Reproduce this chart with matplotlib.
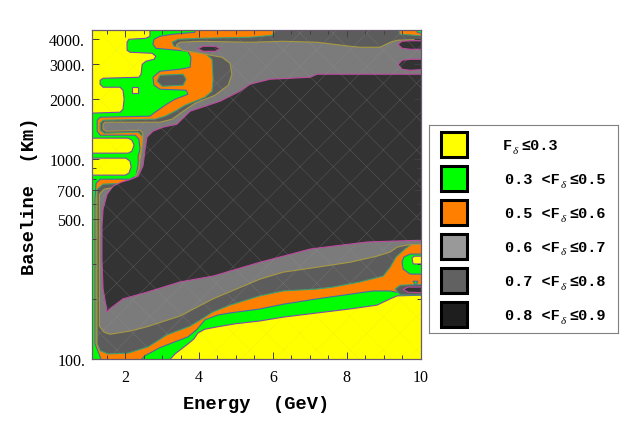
import matplotlib
matplotlib.use("Agg")
import matplotlib.pyplot as plt
from matplotlib.patches import Polygon, Rectangle

# outlines of the regions where F_delta exceeds each level
# points are (energy in GeV, baseline in km)
green_region = [
    (1.0, 90), (3.00, 90), (3.35, 106), (3.70, 119), (3.86, 126), (3.97, 135), (4.16, 141),
    (4.51, 145), (4.98, 150), (5.65, 155), (6.28, 162), (7.20, 170), (8.09, 178), (8.82, 186),
    (9.18, 200), (9.37, 207), (10.2, 209),
    (10.2, 5000), (2.67, 5000), (2.67, 4121), (2.56, 4027), (2.10, 3981), (2.05, 3846),
    (2.05, 3508), (2.13, 3428), (2.73, 3388), (2.83, 3273), (2.78, 3162), (2.56, 3090),
    (2.46, 2985), (2.43, 2661), (2.37, 2570), (1.40, 2541), (1.32, 2483), (1.32, 2371),
    (1.40, 2291), (1.86, 2291), (1.94, 2213), (1.97, 1995), (1.94, 1778), (1.86, 1718),
    (1.0, 1698),
    (1.0, 1274), (2.08, 1274), (2.18, 1245), (2.24, 1175), (2.18, 1096), (2.08, 1072), (1.0, 1072),
    (1.0, 1012), (2.02, 1012), (2.13, 977), (2.16, 912), (2.10, 851), (2.00, 832), (1.0, 832),
]

orange_region = [
    (1.43, 90), (2.21, 90), (2.54, 104), (2.94, 114), (3.35, 122), (3.70, 129), (3.95, 141),
    (4.16, 157), (4.51, 166), (4.84, 170), (5.65, 178), (6.28, 188), (7.20, 200), (8.09, 211),
    (8.72, 219), (9.18, 219), (9.45, 214), (10.2, 214),
    (10.2, 4169), (9.91, 4315), (9.88, 5000), (3.89, 5000), (3.89, 4315), (3.27, 4217),
    (2.94, 4121), (2.78, 3981), (2.75, 3758), (2.83, 3589), (3.70, 3467), (3.78, 3236),
    (3.76, 2884), (3.48, 2818), (2.94, 2754), (2.75, 2570), (2.78, 2344), (2.94, 2239),
    (3.65, 2213), (3.70, 2113), (3.35, 1995), (3.16, 1905), (2.81, 1718), (2.67, 1641),
    (1.32, 1622), (1.24, 1567), (1.24, 1380), (1.32, 1318), (2.27, 1318), (2.37, 1259),
    (2.40, 1122), (2.35, 1035), (2.35, 944), (2.29, 822), (2.13, 794), (1.32, 794),
    (1.21, 759), (1.18, 631), (1.18, 119), (1.29, 106),
]

grey1_region = [
    (1.24, 708), (1.24, 119), (1.32, 110), (1.53, 106), (2.08, 107), (2.62, 115), (3.13, 132),
    (3.76, 146), (4.16, 162), (4.38, 172), (4.84, 186), (5.65, 207), (6.28, 219), (7.20, 224),
    (7.63, 229), (8.36, 243), (8.99, 260), (9.18, 288), (9.34, 324), (9.58, 355), (9.80, 380),
    (10.2, 385),
    (10.2, 4121), (9.85, 4169), (9.45, 4217), (9.37, 5000), (6.25, 5000), (5.98, 4169),
    (5.38, 4074), (4.03, 4027), (3.43, 3981), (3.27, 3846), (3.32, 3673), (3.65, 3589),
    (3.89, 3508), (4.16, 3388), (4.35, 3162), (4.38, 2512), (4.35, 2188), (4.16, 2042),
    (3.89, 1950), (3.62, 1862), (3.35, 1738), (3.08, 1641), (2.81, 1585), (1.40, 1567),
    (1.32, 1514), (1.32, 1396), (1.43, 1349), (2.35, 1365), (2.46, 1303), (2.48, 1122),
    (2.43, 1000), (2.43, 891), (2.35, 794), (2.13, 759), (1.40, 750),
]

grey1_eye = [(2.94, 2630), (3.57, 2661), (3.65, 2512), (3.57, 2344), (3.00, 2317), (2.86, 2455)]

grey2_region = [
    (1.30, 668), (1.30, 146), (1.43, 136), (1.59, 133), (2.13, 138), (2.59, 145), (3.48, 164),
    (4.38, 200), (5.65, 251), (6.28, 272), (7.20, 288), (8.09, 305), (8.82, 327), (9.18, 343),
    (9.37, 363), (9.64, 372), (10.2, 376),
    (10.2, 3981), (9.37, 3936), (9.18, 3846), (8.90, 3631), (8.36, 3631), (8.09, 3673),
    (7.20, 3846), (6.28, 3890), (5.38, 3846), (4.03, 3890), (3.48, 3846), (3.38, 3715),
    (3.54, 3508), (4.16, 3350), (4.62, 3236), (4.84, 3020), (4.89, 2661), (4.79, 2344),
    (4.43, 2089), (3.89, 1905), (3.57, 1738), (3.27, 1585), (2.94, 1531), (2.54, 1531),
    (1.45, 1531), (1.40, 1496), (1.40, 1413), (1.48, 1380), (2.40, 1396), (2.48, 1349),
    (2.46, 1189), (2.40, 1000), (2.37, 891), (2.27, 813), (2.08, 750), (1.72, 724), (1.43, 708),
]

dark_region = [
    (10.2, 2661), (8.09, 2661), (7.20, 2661), (7.01, 2570), (5.92, 2512), (5.38, 2371),
    (5.11, 2188), (4.57, 1950), (3.76, 1738), (3.40, 1496), (3.02, 1445), (2.75, 1380),
    (2.59, 1288), (2.54, 1122), (2.48, 923), (2.35, 822), (2.16, 794), (1.89, 767), (1.67, 733),
    (1.51, 668), (1.40, 562), (1.37, 462), (1.37, 316), (1.40, 224), (1.51, 172), (1.61, 180),
    (1.94, 200), (2.59, 216), (3.48, 243), (4.38, 260), (5.65, 305), (6.28, 327), (7.01, 355),
    (7.63, 367), (8.55, 385), (9.26, 389), (10.2, 394),
]

# small islands
yellow_square = [(2.18, 2291), (2.35, 2291), (2.35, 2138), (2.18, 2138)]
dark_spot = [(3.97, 3570), (4.11, 3673), (4.43, 3673), (4.57, 3589), (4.46, 3467), (4.11, 3467)]
dark_blob_top = [(9.39, 3758), (9.50, 3890), (9.72, 3913), (10.2, 3913), (10.2, 3548), (9.72, 3548), (9.50, 3589)]
dark_blob_mid = [(9.39, 2969), (9.50, 3126), (9.72, 3162), (10.2, 3162), (10.2, 2818), (9.72, 2786), (9.50, 2818)]
green_island = [(9.55, 324), (9.72, 335), (10.2, 335), (10.2, 266), (9.72, 266), (9.53, 282), (9.50, 306)]
yellow_island = [(9.77, 320), (9.83, 327), (10.2, 327), (10.2, 299), (9.80, 299)]
grey_halo = [(9.31, 224), (9.45, 234), (10.2, 237), (10.2, 209), (9.45, 209)]
dark_blob_low = [(9.53, 223), (9.66, 229), (10.2, 229), (10.2, 214), (9.66, 216)]
green_tri = [(9.80, 245), (9.93, 245), (9.87, 234)]

# legend
legend_lo = ["", "0.3", "0.5", "0.6", "0.7", "0.8"]
legend_hi = ["0.3", "0.5", "0.6", "0.7", "0.8", "0.9"]
legend_colors = ["#ffff00", "#00ff00", "#ff8000", "#999999", "#616161", "#1e1e1e"]

x_ticks = [2, 4, 6, 8, 10]
x_minor = [1.5, 2.5, 3, 3.5, 4.5, 5, 5.5, 6.5, 7, 7.5, 8.5, 9, 9.5]
y_ticks = [100, 500, 700, 1000, 2000, 3000, 4000]
y_minor = [200, 300, 400, 600, 800, 900]

YEL, GRN, ORA = "#ffff00", "#00ff00", "#ff8000"
G1, G2, DRK = "#5c5c5c", "#7b7b7b", "#333333"
L03, L05, L06, L07, L08 = "#8048b0", "#4868a8", "#40a070", "#a89a40", "#c048a0"

plt.rcParams["font.family"] = "Liberation Serif"
plt.rcParams["hatch.linewidth"] = 0.4

fig = plt.figure(figsize=(6.3, 4.31), dpi=100)
ax = fig.add_axes([92 / 630, 71 / 431, 328.5 / 630, 329 / 431])
ax.set_facecolor(YEL)
ax.set_yscale("log")


def region(pts, face, edge):
    ax.add_patch(Polygon(pts, closed=True, facecolor=face, edgecolor=edge, lw=0.8))


region(green_region, GRN, L03)
region(yellow_square, YEL, L03)
region(orange_region, ORA, L05)
region(green_island, GRN, L05)
region(yellow_island, YEL, L03)
region(grey1_region, G1, L06)
region(grey1_eye, G1, L06)
region(grey_halo, G1, L06)
region(grey2_region, G2, L07)
region(green_tri, GRN, L05)
region(dark_region, DRK, L08)
region(dark_spot, DRK, L08)
region(dark_blob_top, DRK, L08)
region(dark_blob_mid, DRK, L08)
region(dark_blob_low, DRK, L08)

# faint plotting mesh, seen mostly on the grey shades
ax.add_patch(Polygon(grey1_region, closed=True, fill=False, hatch="x",
                     edgecolor=(0.62, 0.62, 0.62, 0.28), lw=0))
ax.add_patch(Rectangle((0, 0), 1, 1, transform=ax.transAxes, fill=False, hatch="x",
                       edgecolor=(0.5, 0.5, 0.5, 0.08), lw=0))

ax.set_xlim(1.1, 10)
ax.set_ylim(100, 4430)
ax.set_xticks(x_ticks)
ax.set_xticklabels([str(t) for t in x_ticks])
ax.set_xticks(x_minor, minor=True)
ax.set_yticks(y_ticks)
ax.set_yticklabels([f"{t}." for t in y_ticks])
ax.set_yticks(y_minor, minor=True)
ax.set_yticklabels([], minor=True)
ax.tick_params(which="both", direction="in", top=True, right=True, color="#404040",
               labelsize=11.5, width=0.7)
ax.tick_params(which="major", length=5)
ax.tick_params(which="minor", length=3)
ax.tick_params(axis="x", pad=7)
ax.tick_params(axis="y", pad=5)
for s in ax.spines.values():
    s.set_color("#6a5a70")
    s.set_linewidth(0.9)

mono = ["Liberation Mono", "DejaVu Sans Mono"]
fig.text(256 / 630, 1 - 405 / 431, "Energy  (GeV)", family=mono, weight="bold",
         fontsize=13.5, ha="center", va="center")
fig.text(30 / 630, 1 - 196 / 431, "Baseline  (Km)", family=mono, weight="bold",
         fontsize=13.5, ha="center", va="center", rotation=90)

# legend box, laid out in pixels
lax = fig.add_axes([429 / 630, 1 - 334 / 431, 189 / 630, 208 / 431])
lax.set_xlim(0, 189)
lax.set_ylim(208, 0)
lax.set_xticks([])
lax.set_yticks([])
for s in lax.spines.values():
    s.set_color("#808080")
    s.set_linewidth(0.8)

fs = 11
cw = 0.6 * fs * 100 / 72
for i, (lo, hi, col) in enumerate(zip(legend_lo, legend_hi, legend_colors)):
    yc = 19.5 + 34 * i
    lax.add_patch(Rectangle((11.5, yc - 12.5), 26, 25, facecolor=col, edgecolor="black", lw=2.2))
    left = "F" if lo == "" else lo + " <F"
    x0 = 74 if lo == "" else 76
    base = yc + 5
    lax.text(x0, base, left, family=mono, weight="bold", fontsize=fs, va="baseline")
    xd = x0 + len(left) * cw
    lax.text(xd + 0.5, base + 3, "\u03b4", family=["Liberation Serif", "DejaVu Serif"],
             style="italic", fontsize=8, va="baseline")
    lax.text(xd + 9, base, "\u2264" + hi, family=mono, weight="bold", fontsize=fs, va="baseline")

fig.savefig("out.png", dpi=100)
